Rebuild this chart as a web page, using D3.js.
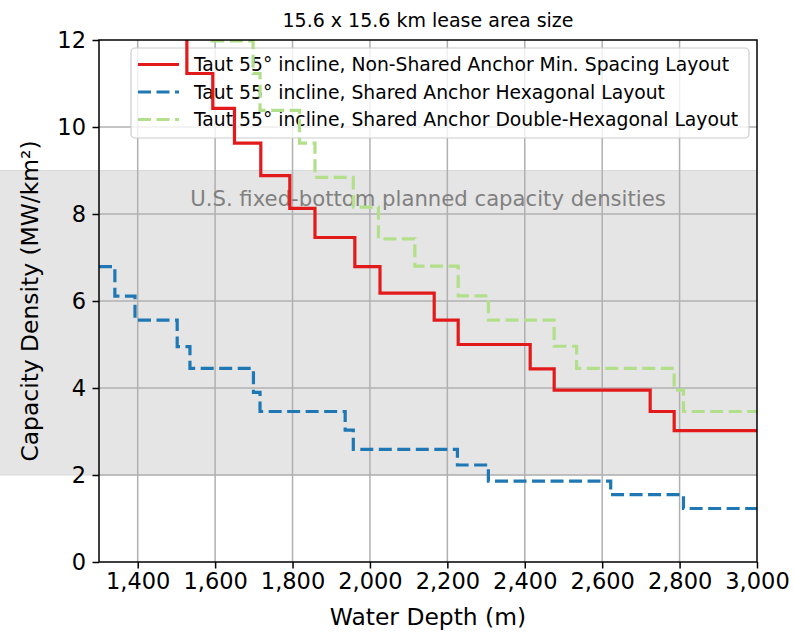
<!DOCTYPE html>
<html>
<head>
<meta charset="utf-8">
<script src="https://cdn.jsdelivr.net/npm/d3@7"></script>
<style>
  html, body { margin: 0; padding: 0; background: #fff; }
  svg { display: block; font-family: "DejaVu Sans", sans-serif; }
</style>
</head>
<body>
<div id="chart"></div>
<script>
// Données (profondeur de début de palier -> densité)
const redDepths   = [1300, 1527, 1594, 1650, 1718, 1793, 1858, 1961, 2026, 2166, 2228, 2414, 2476, 2724, 2786, 3000];
const redValues   = [12.15, 11.23, 10.43, 9.63, 8.88, 8.13, 7.46, 6.79, 6.18, 5.56, 5.0, 4.44, 3.95, 3.46, 3.02, 3.02];

const blueDepths  = [1300, 1341, 1393, 1502, 1535, 1699, 1716, 1936, 1957, 2226, 2306, 2622, 2810, 3000];
const blueValues  = [6.79, 6.11, 5.56, 4.95, 4.45, 3.9, 3.46, 3.03, 2.59, 2.23, 1.86, 1.55, 1.23, 1.23];

const greenDepths = [1300, 1592, 1698, 1716, 1818, 1858, 1957, 2022, 2116, 2228, 2306, 2476, 2534, 2786, 2810, 3000];
const greenValues = [12.8, 11.98, 11.23, 10.38, 9.63, 8.84, 8.16, 7.43, 6.8, 6.12, 5.56, 4.96, 4.45, 3.95, 3.46, 3.46];

const seriesNames = [
    'Taut 55° incline, Non-Shared Anchor Min. Spacing Layout',
    'Taut 55° incline, Shared Anchor Hexagonal Layout',
    'Taut 55° incline, Shared Anchor Double-Hexagonal Layout'
];
const xTicks = [1400, 1600, 1800, 2000, 2200, 2400, 2600, 2800, 3000];
const yTicks = [0, 2, 4, 6, 8, 10, 12];
const bandRange = [2, 9];

/**
 * Configuration du graphique
 */
const CONFIG = {
    width: 794,
    height: 632,
    margin: { left: 99, right: 37, top: 40, bottom: 70 },
    tickFont: 22.5,
    labelFont: 23.4,
    smallFont: 18.75,
    bandFont: 21.2
};

const series = [
    { name: seriesNames[0], depths: redDepths, values: redValues, color: '#e31a1c', dash: null },
    { name: seriesNames[1], depths: blueDepths, values: blueValues, color: '#1f78b4', dash: '13,5.5' },
    { name: seriesNames[2], depths: greenDepths, values: greenValues, color: '#b2df8a', dash: '13,5.5' }
];

const W = CONFIG.width, H = CONFIG.height, m = CONFIG.margin;
const x0 = m.left, x1 = W - m.right, y0 = m.top, y1 = H - m.bottom;

const x = d3.scaleLinear().domain([1300, 3000]).range([x0, x1]);
const y = d3.scaleLinear().domain([0, 12]).range([y1, y0]);

const svg = d3.select('#chart').append('svg')
    .attr('width', W)
    .attr('height', H)
    .attr('viewBox', `0 0 ${W} ${H}`);

svg.append('defs').append('clipPath').attr('id', 'plot-clip')
    .append('rect')
    .attr('x', x0).attr('y', y0)
    .attr('width', x1 - x0).attr('height', y1 - y0);

// Bande grise (déborde à gauche de l'axe, comme dans l'original)
svg.append('rect')
    .attr('x', 0)
    .attr('y', y(bandRange[1]))
    .attr('width', x1)
    .attr('height', y(bandRange[0]) - y(bandRange[1]))
    .style('fill', '#e5e5e5');
[bandRange[0], bandRange[1]].forEach(v => {
    svg.append('line')
        .attr('x1', 0).attr('x2', x1)
        .attr('y1', y(v)).attr('y2', y(v))
        .style('stroke', '#d8d8d8').style('stroke-width', 1);
});

// Grille
const grid = svg.append('g');
xTicks.filter(t => t < 3000).forEach(t => {
    grid.append('line')
        .attr('x1', x(t)).attr('x2', x(t))
        .attr('y1', y0).attr('y2', y1)
        .style('stroke', '#b0b0b0').style('stroke-width', 1.5);
});
yTicks.filter(t => t > 0 && t < 12).forEach(t => {
    grid.append('line')
        .attr('x1', x0).attr('x2', x1)
        .attr('y1', y(t)).attr('y2', y(t))
        .style('stroke', '#b0b0b0').style('stroke-width', 1.5);
});

// Texte de la bande
svg.append('text')
    .attr('x', (x0 + x1) / 2)
    .attr('y', 205.5)
    .attr('text-anchor', 'middle')
    .style('font-size', CONFIG.bandFont + 'px')
    .style('fill', '#808080')
    .text('U.S. fixed-bottom planned capacity densities');

// Légende (cadre semi-transparent, les courbes passent par-dessus)
const legend = svg.append('g');
legend.append('rect')
    .attr('x', 131).attr('y', 48)
    .attr('width', 618).attr('height', 90)
    .attr('rx', 4)
    .style('fill', 'rgba(255,255,255,0.8)')
    .style('stroke', '#cccccc')
    .style('stroke-width', 1.2);
series.forEach((s, i) => {
    const cy = 64.5 + i * 27.5;
    legend.append('line')
        .attr('x1', 138).attr('x2', 179)
        .attr('y1', cy).attr('y2', cy)
        .style('stroke', s.color)
        .style('stroke-width', 3.2)
        .style('stroke-dasharray', s.dash);
    legend.append('text')
        .attr('x', 194).attr('y', cy)
        .attr('dy', '0.36em')
        .style('font-size', CONFIG.smallFont + 'px')
        .style('fill', '#000')
        .text(s.name);
});

// Courbes en escalier
const line = d3.line()
    .x(d => x(d[0]))
    .y(d => y(d[1]))
    .curve(d3.curveStepAfter);

const plot = svg.append('g').attr('clip-path', 'url(#plot-clip)');
series.forEach(s => {
    plot.append('path')
        .datum(d3.zip(s.depths, s.values))
        .attr('d', line)
        .style('fill', 'none')
        .style('stroke', s.color)
        .style('stroke-width', 3.2)
        .style('stroke-dasharray', s.dash);
});

// Axes
const fmt = d3.format(',');
const xAxis = svg.append('g')
    .attr('transform', `translate(0,${y1})`)
    .call(d3.axisBottom(x).tickValues(xTicks).tickFormat(fmt).tickSize(6.5).tickPadding(5));
const yAxis = svg.append('g')
    .attr('transform', `translate(${x0},0)`)
    .call(d3.axisLeft(y).tickValues(yTicks).tickSize(6.5).tickPadding(6.5));

[xAxis, yAxis].forEach(a => {
    a.select('.domain').remove();
    a.selectAll('line').style('stroke', '#000').style('stroke-width', 1.5);
    a.selectAll('text')
        .style('font-family', '"DejaVu Sans", sans-serif')
        .style('font-size', CONFIG.tickFont + 'px')
        .style('fill', '#000');
});

// Cadre
svg.append('rect')
    .attr('x', x0).attr('y', y0)
    .attr('width', x1 - x0).attr('height', y1 - y0)
    .style('fill', 'none')
    .style('stroke', '#000')
    .style('stroke-width', 1.5);

// Titres
svg.append('text')
    .attr('x', (x0 + x1) / 2).attr('y', 26.5)
    .attr('text-anchor', 'middle')
    .style('font-size', '19px')
    .text('15.6 x 15.6 km lease area size');

svg.append('text')
    .attr('x', (x0 + x1) / 2).attr('y', 625)
    .attr('text-anchor', 'middle')
    .style('font-size', CONFIG.labelFont + 'px')
    .text('Water Depth (m)');

svg.append('text')
    .attr('transform', `translate(38,${(y0 + y1) / 2}) rotate(-90)`)
    .attr('text-anchor', 'middle')
    .style('font-size', CONFIG.labelFont + 'px')
    .text('Capacity Density (MW/km²)');
</script>
</body>
</html>
